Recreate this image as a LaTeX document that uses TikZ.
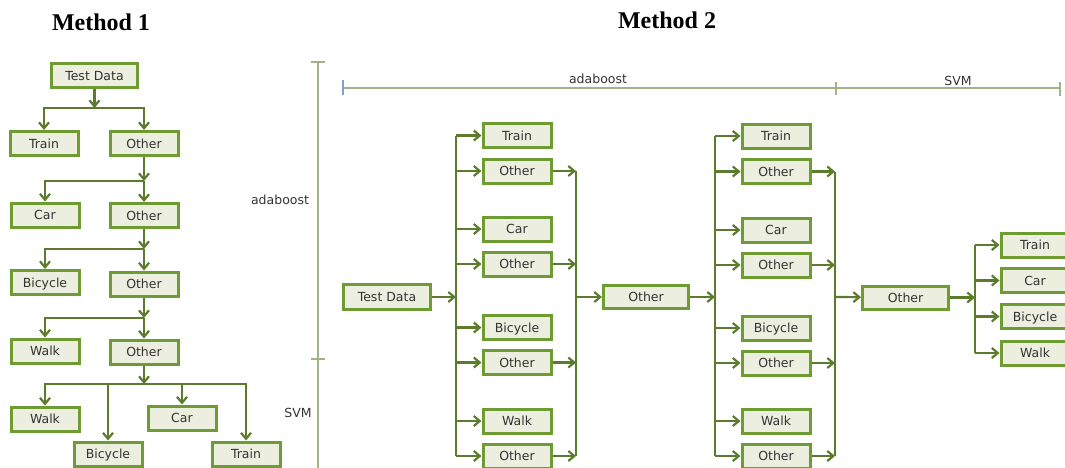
\documentclass[tikz,border=0pt]{standalone}
\usepackage{fontspec}
\setmainfont{DejaVu Sans}
\newfontfamily\titlefont{Liberation Serif}
\usetikzlibrary{arrows.meta}
\definecolor{boxline}{HTML}{6E9C32}
\definecolor{boxfill}{HTML}{ECEFDF}
\definecolor{wire}{HTML}{5C7B2C}
\definecolor{axis}{HTML}{A2B386}
\definecolor{tickblue}{HTML}{7F9FD6}
\definecolor{label}{HTML}{333333}

\begin{document}
\begin{tikzpicture}[x=1pt,y=-1pt,
  cls/.style={draw=boxline, line width=3pt, fill=boxfill, minimum width=68pt,
    minimum height=24pt, inner sep=0pt, text=label, text height=9pt, text depth=0pt,
    font=\fontsize{12.5}{13}\selectfont},
  wire/.style={draw=wire, line width=2.2pt},
  arr/.style={wire, -{Straight Barb[length=6pt,width=10pt]}},
  axisline/.style={draw=axis, line width=2pt},
  axlabel/.style={text=label, font=\fontsize{12.5}{13}\selectfont, inner sep=0pt},
  title/.style={font=\titlefont\bfseries\fontsize{24}{26}\selectfont, text=black}
]
\useasboundingbox (0,0) rectangle (1065,467);

% ---------- titles ----------
\node[title] (t1) at (101,22) {Method 1};
\node[title] (t2) at (667,20) {Method 2};

% ---------- Method 1: cascade of binary splits ----------
\node[cls, minimum width=86pt] (a0) at (94.5,75.5) {Test Data};
\node[cls] (a1l) at (44,143.5) {Train};
\node[cls] (a1r) at (144,143.5) {Other};
\node[cls] (a2l) at (45,215) {Car};
\node[cls] (a2r) at (144,215.5) {Other};
\node[cls] (a3l) at (45,282.5) {Bicycle};
\node[cls] (a3r) at (144,284) {Other};
\node[cls] (a4l) at (45,351) {Walk};
\node[cls] (a4r) at (144,352) {Other};
\node[cls] (a5a) at (45,419) {Walk};
\node[cls] (a5b) at (108,454) {Bicycle};
\node[cls] (a5c) at (182,418) {Car};
\node[cls] (a5d) at (246,454) {Train};

\coordinate (j1) at (94.5,108);
\coordinate (j2) at (144,181);
\coordinate (j3) at (144,249);
\coordinate (j4) at (144,318);
\coordinate (j5) at (144,384);

\draw[arr] (a0) -- (j1);
\draw[arr] (j1) -| (a1l);
\draw[arr] (j1) -| (a1r);

\draw[arr] (a1r) -- (j2);
\draw[arr] (j2) -| (a2l);
\draw[arr] (j2) -- (a2r);

\draw[arr] (a2r) -- (j3);
\draw[arr] (j3) -| (a3l);
\draw[arr] (j3) -- (a3r);

\draw[arr] (a3r) -- (j4);
\draw[arr] (j4) -| (a4l);
\draw[arr] (j4) -- (a4r);

\draw[arr] (a4r) -- (j5);
\draw[arr] (j5) -| (a5a);
\draw[arr] (j5) -| (a5b);
\draw[arr] (j5) -| (a5c);
\draw[arr] (j5) -| (a5d);

% ---------- scale bars ----------
\coordinate (vtop) at (318,62);
\coordinate (vmid) at (318,359);
\coordinate (vbot) at (318,470);
\draw[axisline] (vtop) -- (vbot);
\draw[axisline] ([xshift=-7pt]vtop) -- ([xshift=7pt]vtop);
\draw[axisline] ([xshift=-7pt]vmid) -- ([xshift=7pt]vmid);
\node[axlabel] (lada) at (280,200) {adaboost};
\node[axlabel] (lsvm) at (298,413) {SVM};

\coordinate (hs) at (343,88);
\coordinate (hm) at (836,88);
\coordinate (he) at (1060,88);
\draw[axisline] (hs) -- (he);
\draw[draw=tickblue, line width=2pt] ([yshift=8pt]hs) -- ([yshift=-7pt]hs);
\draw[axisline] ([yshift=6pt]hm) -- ([yshift=-7pt]hm);
\draw[axisline] ([yshift=6pt]he) -- ([yshift=-8pt]he);
\node[axlabel] (tada) at (598,79) {adaboost};
\node[axlabel] (tsvm) at (958,81) {SVM};

% ---------- Method 2: parallel one-vs-rest stages ----------
\node[cls, minimum width=87pt, minimum height=25pt] (b0) at (387,297) {Test Data};

\node[cls] (c1) at (517,135.5) {Train};
\node[cls] (c2) at (517,171) {Other};
\node[cls] (c3) at (517,229) {Car};
\node[cls] (c4) at (517,264) {Other};
\node[cls] (c5) at (517,327.5) {Bicycle};
\node[cls] (c6) at (517,362.5) {Other};
\node[cls] (c7) at (517,421) {Walk};
\node[cls] (c8) at (517,456) {Other};

\coordinate (L1) at (456,297);
\coordinate (R1) at (576,297);
\draw[arr] (b0) -- (L1);
\draw[wire] (L1 |- c1) -- (L1 |- c8);
\foreach \n in {c1,c2,c3,c4,c5,c6,c7,c8} \draw[arr] (L1 |- \n) -- (\n);
\draw[wire] (R1 |- c2) -- (R1 |- c8);
\foreach \n in {c2,c4,c6,c8} \draw[arr] (\n) -- (R1 |- \n);

\node[cls, minimum width=85pt, minimum height=23pt] (m1) at (646,297) {Other};
\draw[arr] (R1) -- (m1);

\node[cls] (d1) at (776,136) {Train};
\node[cls] (d2) at (776,171.5) {Other};
\node[cls] (d3) at (776,230) {Car};
\node[cls] (d4) at (776,265) {Other};
\node[cls] (d5) at (776,328) {Bicycle};
\node[cls] (d6) at (776,363) {Other};
\node[cls] (d7) at (776,421) {Walk};
\node[cls] (d8) at (776,456) {Other};

\coordinate (L2) at (715,297);
\coordinate (R2) at (835,297);
\draw[arr] (m1) -- (L2);
\draw[wire] (L2 |- d1) -- (L2 |- d8);
\foreach \n in {d1,d2,d3,d4,d5,d6,d7,d8} \draw[arr] (L2 |- \n) -- (\n);
\draw[wire] (R2 |- d2) -- (R2 |- d8);
\foreach \n in {d2,d4,d6,d8} \draw[arr] (\n) -- (R2 |- \n);

\node[cls, minimum width=86pt, minimum height=23pt] (m2) at (905.5,297.5) {Other};
\draw[arr] (R2) -- (m2);

\node[cls] (f1) at (1035,245) {Train};
\node[cls] (f2) at (1035,280.5) {Car};
\node[cls] (f3) at (1035,316.5) {Bicycle};
\node[cls] (f4) at (1035,353) {Walk};

\coordinate (L3) at (975,297.5);
\draw[arr] (m2) -- (L3);
\draw[wire] (L3 |- f1) -- (L3 |- f4);
\foreach \n in {f1,f2,f3,f4} \draw[arr] (L3 |- \n) -- (\n);
\end{tikzpicture}
\end{document}
